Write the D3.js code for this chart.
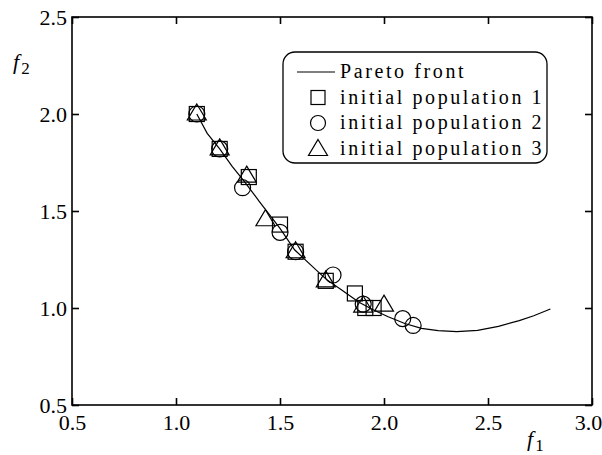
<!DOCTYPE html>
<html>
<head>
<meta charset="utf-8">
<script src="https://cdn.jsdelivr.net/npm/d3@7"></script>
<style>
  body { margin: 0; background: #fff; }
  svg { display: block; }
</style>
</head>
<body>
<div id="chart"></div>
<script>
const W = 602, H = 455;
const margin = { top: 17, right: 10, bottom: 50, left: 72 };
const width = W - margin.left - margin.right;
const height = H - margin.top - margin.bottom;

// Pareto front
const frontF1 = [1.10, 1.15, 1.21, 1.27, 1.33, 1.40, 1.45, 1.50, 1.57, 1.65, 1.72, 1.80, 1.88, 1.95, 2.02, 2.10, 2.18, 2.26, 2.35, 2.45, 2.55, 2.65, 2.72, 2.80];
const frontF2 = [2.00, 1.90, 1.82, 1.73, 1.65, 1.55, 1.48, 1.41, 1.30, 1.22, 1.15, 1.09, 1.03, 0.99, 0.955, 0.92, 0.895, 0.883, 0.878, 0.885, 0.905, 0.935, 0.96, 0.995];

// initial populations
const pop1F1 = [1.10, 1.21, 1.35, 1.50, 1.575, 1.72, 1.86, 1.91, 1.95];
const pop1F2 = [2.00, 1.82, 1.675, 1.43, 1.29, 1.14, 1.075, 1.00, 1.00];
const pop2F1 = [1.10, 1.21, 1.32, 1.50, 1.575, 1.755, 1.90, 2.09, 2.14];
const pop2F2 = [2.00, 1.82, 1.62, 1.39, 1.29, 1.17, 1.02, 0.945, 0.91];
const pop3F1 = [1.10, 1.21, 1.34, 1.43, 1.575, 1.72, 1.90, 2.00];
const pop3F2 = [2.00, 1.82, 1.68, 1.455, 1.29, 1.14, 1.01, 1.015];

const xTicks = [0.5, 1.0, 1.5, 2.0, 2.5, 3.0];
const yTicks = [0.5, 1.0, 1.5, 2.0, 2.5];
const legendLabels = ['Pareto front', 'initial population 1', 'initial population 2', 'initial population 3'];

const font = '"Liberation Serif", "Times New Roman", serif';

const svg = d3.select('#chart').append('svg')
  .attr('width', W)
  .attr('height', H);

const g = svg.append('g')
  .attr('transform', `translate(${margin.left},${margin.top})`);

const x = d3.scaleLinear().domain([0.5, 3.0]).range([0, width]);
const y = d3.scaleLinear().domain([0.5, 2.5]).range([height, 0]);

// axes with inward ticks, mirrored on top/right
const fmt = d3.format('.1f');
const tickLen = 7;
const xAxis = g.append('g')
  .attr('transform', `translate(0,${height})`)
  .call(d3.axisBottom(x).tickValues(xTicks).tickFormat(fmt).tickSizeInner(-tickLen).tickSizeOuter(0).tickPadding(9))
  .call((a) => a.select('.domain').remove());
g.append('g')
  .call(d3.axisLeft(y).tickValues(yTicks).tickFormat(fmt).tickSizeInner(-tickLen).tickSizeOuter(0).tickPadding(5))
  .call((a) => a.select('.domain').remove());
g.append('g')
  .attr('transform', `translate(${width},0)`)
  .call(d3.axisRight(y).tickValues(yTicks).tickFormat('').tickSizeInner(-tickLen).tickSizeOuter(0))
  .call((a) => a.select('.domain').remove());
g.append('g')
  .call(d3.axisTop(x).tickValues(xTicks).tickFormat('').tickSizeInner(-tickLen).tickSizeOuter(0))
  .call((a) => a.select('.domain').remove());

g.selectAll('.tick line').attr('stroke', '#000').attr('stroke-width', 1.6);
g.selectAll('.tick text')
  .style('font-family', font)
  .style('font-size', '22px')
  .attr('fill', '#000');
// last x label sits at the page edge in the reference
xAxis.selectAll('.tick text').filter((d) => d === 3.0).attr('dx', -4);

// frame
g.append('rect')
  .attr('width', width)
  .attr('height', height)
  .attr('fill', 'none')
  .attr('stroke', '#000')
  .attr('stroke-width', 1.6);

// axis titles
function axisTitle(tx, ty, sub) {
  const t = svg.append('text')
    .attr('x', tx)
    .attr('y', ty)
    .style('font-family', font)
    .style('font-size', '22px');
  t.append('tspan').style('font-style', 'italic').text('f');
  t.append('tspan').attr('dy', 5).attr('dx', 2).style('font-size', '17px').text(sub);
}
axisTitle(527, 446, '1');
axisTitle(13, 69, '2');

// Pareto front
const front = frontF1.map((d, i) => [d, frontF2[i]]);
g.append('path')
  .datum(front)
  .attr('fill', 'none')
  .attr('stroke', '#000')
  .attr('stroke-width', 1.2)
  .attr('d', d3.line().x((d) => x(d[0])).y((d) => y(d[1])));

// markers
const markers = g.append('g').attr('fill', 'none').attr('stroke', '#000').attr('stroke-width', 1.2);
const sq = 15, rc = 8, tr = 10;
function triPath(cx, cy, s) {
  return `M${cx},${cy - s}L${cx + s * 0.95},${cy + s * 0.6}L${cx - s * 0.95},${cy + s * 0.6}Z`;
}
pop1F1.forEach((d, i) => {
  markers.append('rect')
    .attr('x', x(d) - sq / 2).attr('y', y(pop1F2[i]) - sq / 2)
    .attr('width', sq).attr('height', sq);
});
pop2F1.forEach((d, i) => {
  markers.append('circle')
    .attr('cx', x(d)).attr('cy', y(pop2F2[i])).attr('r', rc);
});
pop3F1.forEach((d, i) => {
  markers.append('path')
    .attr('d', triPath(x(d), y(pop3F2[i]), tr));
});

// legend
const lg = svg.append('g').attr('transform', 'translate(283,52)');
lg.append('rect')
  .attr('width', 264).attr('height', 111)
  .attr('rx', 12).attr('ry', 12)
  .attr('fill', '#fff').attr('stroke', '#000').attr('stroke-width', 1.3);
legendLabels.forEach((lab, i) => {
  const cy = 20 + i * 25.5;
  if (i === 0) {
    lg.append('line').attr('x1', 14).attr('x2', 52).attr('y1', cy).attr('y2', cy)
      .attr('stroke', '#000').attr('stroke-width', 1.2);
  } else if (i === 1) {
    lg.append('rect').attr('x', 28).attr('y', cy - 7).attr('width', 14).attr('height', 14)
      .attr('fill', 'none').attr('stroke', '#000').attr('stroke-width', 1.2);
  } else if (i === 2) {
    lg.append('circle').attr('cx', 35).attr('cy', cy).attr('r', 7.5)
      .attr('fill', 'none').attr('stroke', '#000').attr('stroke-width', 1.2);
  } else {
    lg.append('path').attr('d', triPath(35, cy + 1, 10))
      .attr('fill', 'none').attr('stroke', '#000').attr('stroke-width', 1.2);
  }
  lg.append('text')
    .attr('x', 57).attr('y', cy + 6)
    .style('font-family', font)
    .style('font-size', '20px')
    .style('letter-spacing', '2.6px')
    .text(lab);
});
</script>
</body>
</html>
